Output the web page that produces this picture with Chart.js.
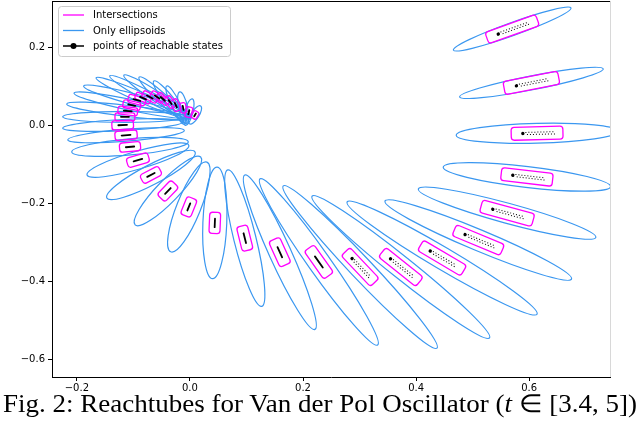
<!DOCTYPE html>
<html>
<head>
<meta charset="utf-8">
<script src="https://cdn.jsdelivr.net/npm/chart.js@4.4.0/dist/chart.umd.min.js"></script>
<style>
body{margin:0;background:#fff;}
#wrap{position:relative;width:640px;height:395px;}
#cap{position:absolute;left:0;top:389px;width:640px;text-align:center;font-family:'Liberation Serif';font-size:25px;white-space:nowrap;color:#000;transform-origin:320px 0;}
</style>
</head>
<body>
<div id="wrap"><canvas id="myChart" width="640" height="395"></canvas></div>
<div id="cap"><span id="capText">Fig. 2: Reachtubes for Van der Pol Oscillator (<i>t</i> ∈ [3.4, 5])</span></div>
<script>
// ellipsoid centres (= reachable state) and one end of the major axis
var ellCx = [0.570,0.604,0.614,0.596,0.561,0.510,0.446,0.373,0.301,0.228,0.159,0.097,0.044,-0.002,-0.039,-0.069,-0.092,-0.106,-0.113,-0.119,-0.115,-0.110,-0.103,-0.094,-0.083,-0.071,-0.058,-0.048,-0.035,-0.025,-0.012,-0.002,0.009];
var ellCy = [0.246,0.108,-0.021,-0.133,-0.226,-0.295,-0.341,-0.364,-0.364,-0.351,-0.326,-0.290,-0.251,-0.210,-0.169,-0.128,-0.090,-0.056,-0.026,0.000,0.021,0.036,0.051,0.064,0.069,0.072,0.072,0.067,0.059,0.051,0.044,0.033,0.026];
var tipX = [0.674,0.731,0.471,0.448,0.404,0.345,0.278,0.216,0.165,0.124,0.097,0.067,0.048,0.030,0.019,-0.147,-0.182,-0.209,-0.216,-0.225,-0.225,-0.218,-0.205,-0.188,-0.166,-0.142,-0.117,-0.090,-0.064,-0.041,-0.018,0.004,0.019];
var tipY = [0.300,0.144,-0.026,-0.108,-0.164,-0.195,-0.197,-0.182,-0.156,-0.138,-0.128,-0.115,-0.108,-0.095,-0.082,-0.187,-0.128,-0.069,-0.038,-0.008,0.021,0.054,0.082,0.100,0.121,0.126,0.128,0.123,0.113,0.100,0.085,0.067,0.049];
// minor / major axis ratio of each ellipsoid
var minorRatio = [0.104,0.095,0.123,0.124,0.109,0.104,0.100,0.096,0.098,0.108,0.129,0.157,0.214,0.247,0.234,0.200,0.170,0.138,0.103,0.092,0.089,0.090,0.093,0.100,0.098,0.110,0.126,0.153,0.190,0.214,0.276,0.300,0.370];
// intersection box half length / half width, relative to the major semi axis
var boxLen = [0.43,0.38,0.32,0.307,0.293,0.257,0.227,0.21,0.19,0.167,0.165,0.179,0.19,0.196,0.213,0.21,0.21,0.18,0.19,0.18,0.16,0.16,0.15,0.16,0.157,0.177,0.176,0.215,0.227,0.286,0.307,0.376,0.37];
var boxWid = [0.095,0.09,0.08,0.077,0.071,0.059,0.055,0.053,0.054,0.059,0.071,0.079,0.098,0.113,0.117,0.1,0.094,0.078,0.077,0.075,0.065,0.065,0.068,0.073,0.069,0.077,0.088,0.107,0.133,0.167,0.184,0.226,0.28];

var xTicks = [-0.2,0.0,0.2,0.4,0.6];
var yTicks = [-0.6,-0.4,-0.2,0.0,0.2];
var legendLabels = ['Intersections','Only ellipsoids','points of reachable states'];

var BLUE = '#3a97f0', MAGENTA = '#ff00ff';

function fmt(v){
	var s = Math.abs(v).toFixed(1);
	return v < -1e-9 ? '\u2212' + s : s;
}

var reachPlugin = {
	id: 'reach',
	afterDatasetsDraw: function(chart){
		var ctx = chart.ctx, ca = chart.chartArea;
		var xs = chart.scales.x, ys = chart.scales.y;
		ctx.save();
		ctx.beginPath();
		ctx.rect(ca.left, ca.top, ca.right - ca.left, ca.bottom - ca.top);
		ctx.clip();
		var geo = [];
		for(let i=0;i<ellCx.length;i++){
			var px = xs.getPixelForValue(ellCx[i]), py = ys.getPixelForValue(ellCy[i]);
			var tx = xs.getPixelForValue(tipX[i]), ty = ys.getPixelForValue(tipY[i]);
			var a = Math.hypot(tx-px, ty-py);
			var ang = Math.atan2(ty-py, tx-px);
			if(Math.cos(ang) < 0) ang += Math.PI; // keep "left" end on the left
			geo.push({px:px, py:py, a:a, ang:ang});
		}
		// ellipsoids
		ctx.strokeStyle = BLUE; ctx.lineWidth = 1.2;
		for(let i=0;i<geo.length;i++){
			var g = geo[i];
			ctx.beginPath();
			ctx.ellipse(g.px, g.py, g.a, g.a*minorRatio[i], g.ang, 0, 2*Math.PI);
			ctx.stroke();
		}
		// intersections
		ctx.strokeStyle = MAGENTA; ctx.lineWidth = 1.3;
		for(let i=0;i<geo.length;i++){
			var g = geo[i];
			var hl = g.a*boxLen[i], hw = g.a*boxWid[i];
			ctx.save();
			ctx.translate(g.px, g.py); ctx.rotate(g.ang);
			ctx.beginPath();
			ctx.roundRect(-hl, -hw, 2*hl, 2*hw, Math.min(3, hw*0.6));
			ctx.stroke();
			ctx.restore();
		}
		// points of reachable states
		ctx.fillStyle = '#000'; ctx.strokeStyle = '#000';
		for(let i=0;i<geo.length;i++){
			var g = geo[i];
			var hl = g.a*boxLen[i];
			ctx.save();
			ctx.translate(g.px, g.py); ctx.rotate(g.ang);
			if(hl > 20){
				ctx.beginPath(); ctx.arc(-0.55*hl, 0, 1.7, 0, 2*Math.PI); ctx.fill();
				for(let s=-0.45*hl; s<=0.6*hl; s+=3){
					ctx.fillRect(s, -1.6, 1, 1);
					ctx.fillRect(s+1.5, 0.6, 1, 1);
				}
			} else {
				ctx.lineWidth = 1.8; ctx.lineCap = 'round';
				ctx.beginPath(); ctx.moveTo(-0.4*hl, 0); ctx.lineTo(0.4*hl, 0); ctx.stroke();
			}
			ctx.restore();
		}
		ctx.restore();

		// frame (top/right)
		ctx.save();
		ctx.strokeStyle = '#000'; ctx.lineWidth = 1;
		ctx.beginPath(); ctx.moveTo(ca.left, ca.top+0.5); ctx.lineTo(ca.right, ca.top+0.5); ctx.stroke();
		ctx.strokeStyle = '#d8d8d8';
		ctx.beginPath(); ctx.moveTo(ca.right+0.5, ca.top); ctx.lineTo(ca.right+0.5, ca.bottom); ctx.stroke();
		ctx.restore();

		// legend
		ctx.save();
		var lx = ca.left + 6, ly = ca.top + 5, lw = 172, lh = 50;
		ctx.fillStyle = 'rgba(255,255,255,0.85)'; ctx.strokeStyle = '#cccccc'; ctx.lineWidth = 1;
		ctx.beginPath(); ctx.roundRect(lx+0.5, ly+0.5, lw, lh, 3); ctx.fill(); ctx.stroke();
		var cols = [MAGENTA, BLUE, '#000'];
		ctx.font = '10px "DejaVu Sans"'; ctx.textBaseline = 'middle'; ctx.fillStyle = '#000';
		for(let k=0;k<legendLabels.length;k++){
			var yy = ly + 9 + k*15.5;
			ctx.strokeStyle = cols[k]; ctx.lineWidth = k==2 ? 1.5 : 1.3;
			ctx.beginPath(); ctx.moveTo(lx+5, yy); ctx.lineTo(lx+26, yy); ctx.stroke();
			if(k==2){ ctx.fillStyle='#000'; ctx.beginPath(); ctx.arc(lx+15.5, yy, 3, 0, 2*Math.PI); ctx.fill(); }
			ctx.fillStyle = '#000';
			ctx.fillText(legendLabels[k], lx+35, yy+0.5);
		}
		ctx.restore();
	}
};

new Chart('myChart', {
	type: 'scatter',
	data: {
		datasets: [{
			label: 'points of reachable states',
			data: ellCx.map(function(v,i){ return {x:v, y:ellCy[i]}; }),
			pointRadius: 0,
			showLine: false
		}]
	},
	options: {
		responsive: false,
		animation: false,
		layout: {padding: {left: 0, right: 30, top: 1, bottom: 0}},
		plugins: {legend: {display: false}, tooltip: {enabled: false}},
		scales: {
			x: {
				type: 'linear', min: -0.244, max: 0.743,
				afterBuildTicks: function(s){ s.ticks = xTicks.map(function(v){ return {value:v}; }); },
				afterFit: function(s){ s.height = 18; s.paddingLeft = 0; s.paddingRight = 0; },
				ticks: {callback: function(v){ return fmt(v); }, font: {family: 'DejaVu Sans', size: 10}, color: '#000', padding: 1, maxRotation: 0, autoSkip: false},
				grid: {drawOnChartArea: false, tickLength: 4, color: '#000'},
				border: {color: '#000', width: 1}
			},
			y: {
				type: 'linear', min: -0.646, max: 0.318,
				afterBuildTicks: function(s){ s.ticks = yTicks.map(function(v){ return {value:v}; }); },
				afterFit: function(s){ s.width = 52; s.paddingTop = 0; s.paddingBottom = 0; },
				ticks: {callback: function(v){ return fmt(v); }, font: {family: 'DejaVu Sans', size: 10}, color: '#000', padding: 3, autoSkip: false},
				grid: {drawOnChartArea: false, tickLength: 4, color: '#000'},
				border: {color: '#000', width: 1}
			}
		}
	},
	plugins: [reachPlugin]
});

// stretch caption to the width used in the paper figure
var capSpan = document.getElementById('capText');
var w = capSpan.getBoundingClientRect().width;
document.getElementById('cap').style.transform = 'scaleX(' + (634 / w) + ')';
</script>
</body>
</html>
